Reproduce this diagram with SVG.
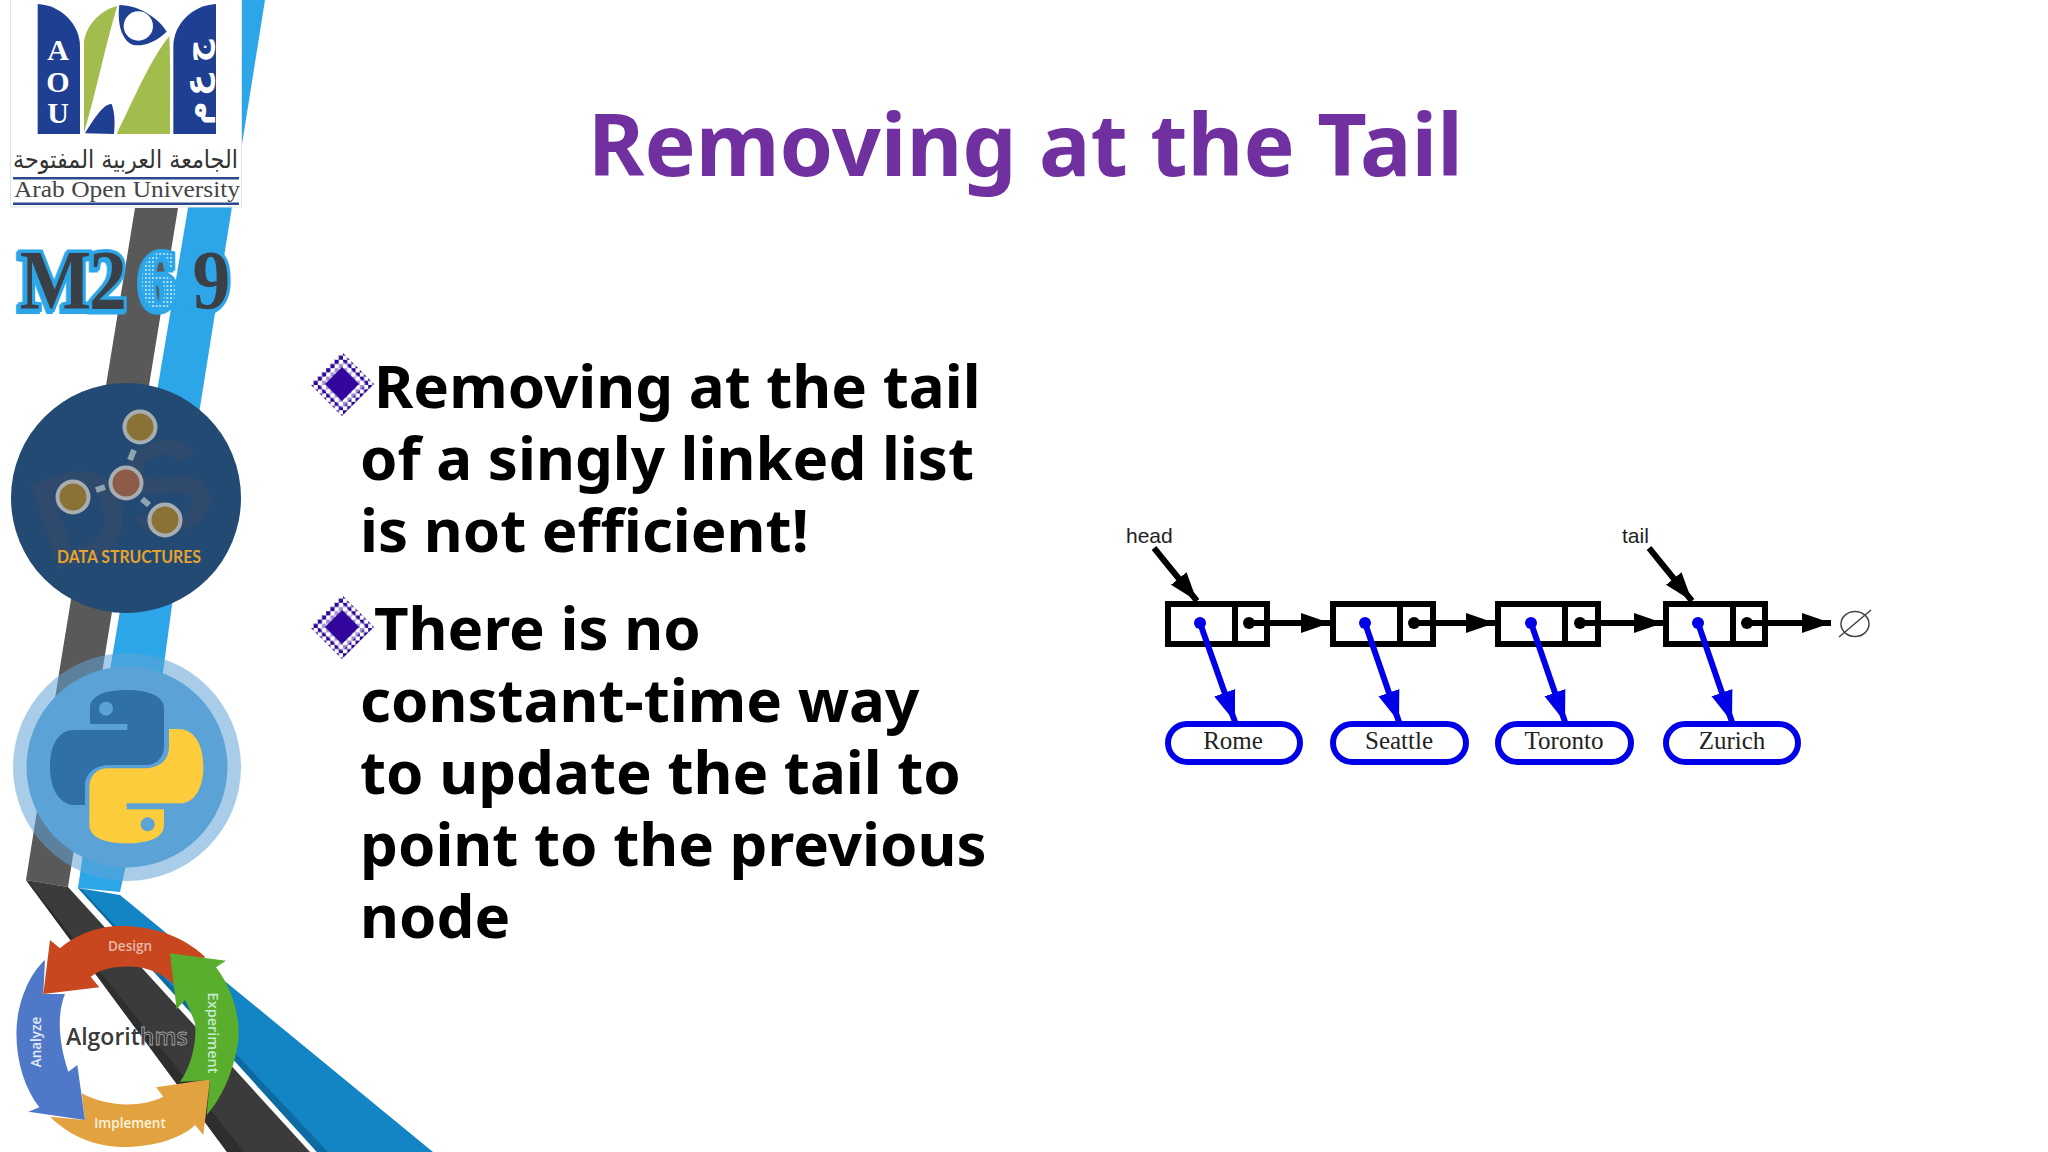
<svg xmlns="http://www.w3.org/2000/svg" width="2048" height="1152" viewBox="0 0 2048 1152">
<style>
.t{font-family:"Noto Sans","Open Sans","Liberation Sans",sans-serif;font-weight:700}
.body{font-size:60px;fill:#000}
.cell{fill:#fff;stroke:#000;stroke-width:6}
.pill{fill:#fff;stroke:#0000e8;stroke-width:6}
.lbl{font-family:"Liberation Serif",serif;font-size:25px;fill:#222;text-anchor:middle}
.ptr{font-family:"Liberation Sans",sans-serif;font-size:21px;fill:#222}
.bk{stroke:#000;stroke-width:6;fill:none}
.bl{stroke:#0000e8;stroke-width:6;fill:none}
.dk{fill:#000}.db{fill:#0000e8}
.cyc{font-family:"Open Sans","Liberation Sans",sans-serif;font-weight:600;font-size:13.500px;text-anchor:middle}
</style>
<defs>
<marker id="ah" markerUnits="userSpaceOnUse" markerWidth="30" markerHeight="22" refX="29" refY="11" orient="auto"><path d="M0 1L29 11L0 21Z" fill="#000"/></marker>
<marker id="ab" markerUnits="userSpaceOnUse" markerWidth="32" markerHeight="24" refX="31" refY="12" orient="auto"><path d="M0 1L31 12L0 23Z" fill="#0000e8"/></marker>
<pattern id="chk" width="8.400" height="8.400" patternUnits="userSpaceOnUse" x="1" y="1"><rect width="8.400" height="8.400" fill="#fff"/><rect width="4.200" height="4.200" fill="#2e0a96"/><rect x="4.200" y="4.200" width="4.200" height="4.200" fill="#2e0a96"/></pattern>
<pattern id="dots" width="4" height="4" patternUnits="userSpaceOnUse"><rect width="4" height="4" fill="#2ca6e8"/><circle cx="2" cy="2" r="1.100" fill="#cfeefc"/></pattern>
<clipPath id="dsclip"><circle cx="126" cy="498" r="115"/></clipPath>
<g id="bullet"><polygon points="0,-32 32,0 0,32 -32,0" fill="url(#chk)"/><polygon points="0,-24 24,0 0,24 -24,0" fill="#fff" opacity=".55"/><polygon points="0,-17 17,0 0,17 -17,0" fill="#32059c"/></g>
</defs>
<rect width="2048" height="1152" fill="#fff"/>

<g id="sidebar-bands">
<polygon points="265,0 190,470 154,740 120,892 78,888 110,670 188,208 242,137 242,0" fill="#2ca6e8"/>
<polygon points="135,208 178,208 103,667 68,887 26,880 60,667" fill="#595959"/>
<polygon points="26,880 68,887 310,1152 227,1152" fill="#3b3b3b"/>
<polygon points="26,880 30,884 244,1152 227,1152" fill="#2e2e2e"/>
<polygon points="78,888 120,895 433,1152 317,1152" fill="#1485c4"/>
<polygon points="78,888 82,890 328,1152 317,1152" fill="#0e6ba2"/>
</g>

<g id="logo-aou">
<rect x="10.500" y="-1" width="231" height="208" fill="#fff" stroke="#e3e3e3"/>
<g transform="scale(.33333)">
<path d="M113 402V12C180 15 240 70 240 140V402Z" fill="#1f3f93"/>
<path d="M648 402V12C580 15 520 70 520 140V402Z" fill="#1f3f93"/>
<path d="M252 398V130C255 80 300 30 352 18C320 120 285 290 252 398Z" fill="#a2bd4e"/>
<path d="M350 402C400 300 450 180 508 108C512 200 510 300 510 402Z" fill="#a2bd4e"/>
<path d="M358 15C420 15 480 60 500 95C470 125 430 140 400 135C370 125 350 80 358 15Z" fill="#1f3f93"/>
<circle cx="415" cy="78" r="44" fill="#fff"/>
<path d="M255 400C280 360 310 310 335 312C345 340 345 370 342 402Z" fill="#1f3f93"/>
</g>
<g font-family="Liberation Serif,serif" font-weight="700" font-size="30" fill="#fff" text-anchor="middle">
<text x="58" y="60">A</text><text x="58" y="92">O</text><text x="58" y="123">U</text>
</g>
<g font-family="DejaVu Sans,sans-serif" font-weight="700" font-size="32" fill="#fff" text-anchor="middle">
<text transform="translate(207 51) rotate(-90)">ج</text>
<text transform="translate(207 85) rotate(-90)">ع</text>
<text transform="translate(207 113) rotate(-90)">م</text>
</g>
<text x="238" y="168" font-family="DejaVu Sans,sans-serif" font-size="25" fill="#333" direction="rtl" textLength="225" lengthAdjust="spacingAndGlyphs">الجامعة العربية المفتوحة</text>
<rect x="13" y="177" width="226" height="2.500" fill="#2b4a8c"/>
<text x="14" y="197" font-family="Liberation Serif,serif" font-size="24" fill="#444" textLength="226" lengthAdjust="spacingAndGlyphs">Arab Open University</text>
<rect x="13" y="202.500" width="226" height="2.500" fill="#2b4a8c"/>
</g>

<g id="m269">
<text transform="scale(.9 1)" y="309" x="22 99 155 214" font-family="Liberation Serif,serif" font-weight="700" font-size="84" stroke="#2ca6e8" stroke-width="7" paint-order="stroke" style="filter:drop-shadow(-2px 2px 0 #2ca6e8)"><tspan fill="#3b3f46">M2</tspan><tspan fill="url(#dots)">6</tspan><tspan fill="#3b3f46">9</tspan></text>
</g>

<g id="data-structures">
<circle cx="126" cy="498" r="115" fill="#234a73"/>
<g clip-path="url(#dsclip)"><text transform="translate(50 572) rotate(-18)" font-family="Liberation Sans,sans-serif" font-weight="700" font-size="130" fill="#2f4a6c">DS</text></g>
<g stroke="#8fa3b3" stroke-width="6">
<line x1="134" y1="450" x2="130" y2="460"/><line x1="96" y1="490" x2="105" y2="487"/><line x1="142" y1="499" x2="149" y2="505"/>
</g>
<g stroke="#a7adb0" stroke-width="4">
<circle cx="140" cy="427" r="15.500" fill="#8a7135"/><circle cx="126" cy="483" r="15.500" fill="#8d5c48"/><circle cx="73" cy="497" r="15.500" fill="#8a7135"/><circle cx="165" cy="520" r="15.500" fill="#8a7135"/>
</g>
<text x="129" y="563" font-family="Lato,sans-serif" font-weight="700" font-size="16.500" fill="#e5a32e" text-anchor="middle" textLength="144" lengthAdjust="spacingAndGlyphs">DATA STRUCTURES</text>
</g>

<g id="python">
<circle cx="127" cy="767" r="114" fill="#60a3d5" opacity=".54"/>
<circle cx="127" cy="767" r="100.500" fill="#5ba3d6"/>
<g transform="translate(10 650) scale(.33333)">
<path d="M350 120C300 120 240 130 240 175V222H352V240H190C150 240 120 280 120 350C120 420 150 465 195 465H225V410C225 365 260 345 300 345H410C440 345 462 320 462 290V175C462 140 420 120 350 120Z" fill="#2f70a9"/>
<circle cx="288" cy="176" r="21" fill="#5ba3d6"/>
<path d="M350 580C400 580 462 570 462 525V478H350V460H510C550 460 580 420 580 350C580 280 550 237 505 237H477V290C477 335 442 355 400 355H290C260 355 238 380 238 410V525C238 560 280 580 350 580Z" fill="#fdcc3c"/>
<circle cx="413" cy="523" r="21" fill="#5ba3d6"/>
</g>
</g>

<g id="algorithms">
<g transform="translate(0 850) scale(.33333)">
<path d="M630 688L468 712L490 740C430 770 330 775 245 730L255 810L150 800C230 880 330 895 400 890C480 885 550 860 585 825L610 855Z" fill="#e2a23f"/>
<path d="M255 810L85 785L118 772C70 710 45 620 50 530C55 450 90 370 135 330L130 432H195C175 480 170 560 205 665L232 645Z" fill="#5078c8"/>
<path d="M615 320C540 250 440 225 350 228C280 232 220 260 180 295L150 270L130 432L298 412L272 380C310 350 370 345 420 352C460 360 500 380 525 408Z" fill="#c8471f"/>
<path d="M510 310L678 332L648 352C700 420 720 500 715 570C705 650 670 740 620 795L630 690L540 695C580 640 590 560 585 520C575 490 565 470 555 450L530 478Z" fill="#59ae2e"/>
</g>
<text x="130" y="951" class="cyc" fill="#e8b8a8">Design</text>
<text transform="translate(208 1033) rotate(90)" class="cyc" style="font-size:14.500px" fill="#c5ead0">Experiment</text>
<text transform="translate(41 1042) rotate(-90)" class="cyc" fill="#e4ebf7">Analyze</text>
<text x="130" y="1128" class="cyc" fill="#fff3dc">Implement</text>
<text x="66" y="1045" font-family="Open Sans,Liberation Sans,sans-serif" font-weight="600" font-size="23" fill="#3a3a3a">Algorit<tspan stroke="#a8a8a8" stroke-width=".8">hms</tspan></text>
</g>

<g id="title"><text x="588" y="176" class="t" font-size="86" fill="#7030a0">Removing at the Tail</text></g>

<g id="bullets">
<use href="#bullet" x="342" y="384"/>
<use href="#bullet" x="342" y="627"/>
<text class="t body" x="374" y="408">Removing at the tail</text>
<text class="t body" x="360" y="480">of a singly linked list</text>
<text class="t body" x="360" y="552">is not efficient!</text>
<text class="t body" x="374" y="650">There is no</text>
<text class="t body" x="360" y="722">constant-time way</text>
<text class="t body" x="360" y="794">to update the tail to</text>
<text class="t body" x="360" y="866">point to the previous</text>
<text class="t body" x="360" y="938">node</text>
</g>

<g id="node-1"><rect class="cell" x="1168" y="604" width="99" height="40"/><line class="cell" x1="1235" y1="604" x2="1235" y2="644"/></g>
<g id="node-2"><rect class="cell" x="1333" y="604" width="100" height="40"/><line class="cell" x1="1400" y1="604" x2="1400" y2="644"/></g>
<g id="node-3"><rect class="cell" x="1498" y="604" width="100" height="40"/><line class="cell" x1="1565" y1="604" x2="1565" y2="644"/></g>
<g id="node-4"><rect class="cell" x="1666" y="604" width="99" height="40"/><line class="cell" x1="1733" y1="604" x2="1733" y2="644"/></g>

<g id="el-rome"><rect class="pill" x="1168" y="724" width="132" height="38" rx="19"/><text class="lbl" x="1233" y="749">Rome</text></g>
<g id="el-seattle"><rect class="pill" x="1333" y="724" width="133" height="38" rx="19"/><text class="lbl" x="1399" y="749">Seattle</text></g>
<g id="el-toronto"><rect class="pill" x="1498" y="724" width="133" height="38" rx="19"/><text class="lbl" x="1564" y="749">Toronto</text></g>
<g id="el-zurich"><rect class="pill" x="1666" y="724" width="132" height="38" rx="19"/><text class="lbl" x="1732" y="749">Zurich</text></g>

<g id="ptr-head"><text class="ptr" x="1126" y="543">head</text></g>
<g id="ptr-tail"><text class="ptr" x="1622" y="543">tail</text></g>
<g id="null"><ellipse cx="1855" cy="624" rx="14" ry="12.500" fill="none" stroke="#444" stroke-width="1.500"/><line x1="1839" y1="637" x2="1871" y2="610" stroke="#444" stroke-width="1.500"/></g>

<g id="connectors">
<line class="bk" x1="1154" y1="548" x2="1197" y2="601" marker-end="url(#ah)"/>
<line class="bk" x1="1649" y1="548" x2="1692" y2="601" marker-end="url(#ah)"/>
<line class="bk" x1="1249" y1="623" x2="1330" y2="623" marker-end="url(#ah)"/>
<line class="bk" x1="1414" y1="623" x2="1495" y2="623" marker-end="url(#ah)"/>
<line class="bk" x1="1580" y1="623" x2="1663" y2="623" marker-end="url(#ah)"/>
<line class="bk" x1="1747" y1="623" x2="1831" y2="623" marker-end="url(#ah)"/>
<circle class="dk" cx="1249" cy="623" r="6"/><circle class="dk" cx="1414" cy="623" r="6"/><circle class="dk" cx="1580" cy="623" r="6"/><circle class="dk" cx="1747" cy="623" r="6"/>
<line class="bl" x1="1200" y1="623" x2="1235" y2="722" marker-end="url(#ab)"/>
<line class="bl" x1="1365" y1="623" x2="1399" y2="722" marker-end="url(#ab)"/>
<line class="bl" x1="1531" y1="623" x2="1565" y2="722" marker-end="url(#ab)"/>
<line class="bl" x1="1698" y1="623" x2="1732" y2="722" marker-end="url(#ab)"/>
<circle class="db" cx="1200" cy="623" r="6"/><circle class="db" cx="1365" cy="623" r="6"/><circle class="db" cx="1531" cy="623" r="6"/><circle class="db" cx="1698" cy="623" r="6"/>
</g>
</svg>
